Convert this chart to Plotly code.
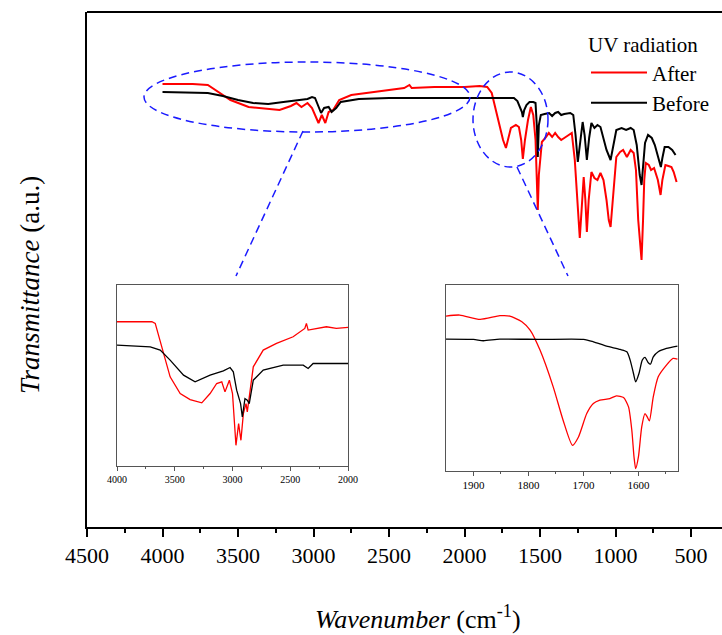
import plotly.graph_objects as go

# ---------------- data (main spectrum, arbitrary transmittance units) ----------------
before_wn = [4000, 3700, 3600, 3500, 3400, 3300, 3200, 3100, 3040, 3010, 2990, 2950, 2930, 2900, 2880, 2850,
             2820, 2700, 2500, 2300, 2000, 1800, 1700, 1673, 1650, 1620, 1614, 1605, 1590, 1570, 1545, 1530,
             1520, 1515, 1508, 1495, 1470, 1440, 1420, 1400, 1380, 1360, 1340, 1300, 1280, 1265, 1250, 1235,
             1218, 1205, 1190, 1175, 1160, 1140, 1120, 1100, 1085, 1060, 1033, 1010, 995, 960, 930, 900, 880,
             860, 840, 828, 815, 805, 785, 760, 740, 720, 700, 690, 675, 650, 625, 603]
before_py = [92, 93, 96, 100, 103, 104, 102, 100, 99, 97, 98, 113, 108, 107, 112, 108,
             102, 99, 98, 98, 98, 98, 98, 98, 101, 112, 117, 110, 105, 102, 102, 103,
             130, 157, 125, 115, 114, 113, 116, 113, 112, 115, 114, 113, 115, 135, 162, 140,
             122, 135, 160, 138, 123, 128, 125, 127, 135, 150, 160, 140, 130, 128, 130, 128, 130,
             145, 175, 185, 160, 143, 135, 138, 145, 155, 167, 158, 147, 147, 150, 155]

after_wn = [4000, 3800, 3700, 3650, 3550, 3430, 3300, 3225, 3150, 3113, 3080, 3040, 3010, 2967, 2945, 2922,
            2900, 2870, 2830, 2750, 2600, 2400, 2365, 2350, 2200, 2000, 1900, 1850, 1820, 1800, 1770, 1745,
            1726, 1710, 1693, 1660, 1640, 1625, 1614, 1600, 1580, 1561, 1545, 1530, 1520, 1515, 1508, 1495,
            1488, 1460, 1442, 1420, 1400, 1380, 1360, 1330, 1290, 1270, 1250, 1237, 1225, 1211, 1200, 1190,
            1178, 1160, 1140, 1120, 1100, 1080, 1060, 1045, 1033, 1015, 995, 970, 950, 925, 900, 880, 865,
            850, 835, 828, 818, 810, 800, 780, 765, 745, 720, 702, 690, 670, 650, 630, 615, 596]
after_py = [84, 84, 85, 90, 100, 107, 109, 110, 106, 103, 107, 103, 108, 123, 115, 123,
            112, 110, 100, 95, 92, 88, 85, 88, 87, 87, 86, 87, 93, 105, 125, 140,
            148, 138, 128, 125, 127, 140, 159, 140, 120, 107, 115, 140, 180, 210, 175, 150,
            142, 137, 133, 137, 133, 137, 140, 137, 133, 160, 210, 238, 210, 177, 200, 232,
            200, 172, 178, 180, 173, 180, 200, 220, 227, 190, 157, 152, 150, 157, 150, 153, 170,
            220, 250, 260, 220, 180, 163, 165, 170, 168, 180, 195, 180, 165, 166, 167, 172, 182]

before_main = [(527 - v) / 5.15 for v in before_py]
after_main = [(527 - v) / 5.15 for v in after_py]

# ---------------- inset 1 (4000-2000 cm-1) ----------------
in1_after_wn = [4000, 3698, 3669, 3597, 3540, 3453, 3367, 3266, 3194, 3137, 3093, 3065, 3027, 3000, 2970,
                2947, 2927, 2906, 2883, 2872, 2855, 2820, 2734, 2619, 2475, 2374, 2360, 2345, 2187, 2101, 2000]
in1_after_zy = [125, 125, 130, 215, 290, 340, 358, 368, 340, 310, 305, 335, 300, 340, 495,
                430, 480, 400, 370, 395, 350, 260, 210, 190, 170, 145, 130, 150, 140, 145, 142]
in1_before_wn = [4000, 3712, 3626, 3540, 3424, 3324, 3194, 3079, 3021, 2993, 2964, 2930, 2915, 2892,
                 2872, 2855, 2820, 2734, 2561, 2388, 2345, 2302, 2000]
in1_before_zy = [195, 200, 210, 240, 285, 305, 285, 272, 262, 275, 330, 370, 410, 355,
                 360, 370, 300, 270, 255, 255, 265, 250, 250]
in1_after = [557 - v for v in in1_after_zy]
in1_before = [557 - v for v in in1_before_zy]

# ---------------- inset 2 (1950-1528 cm-1) ----------------
in2_after_wn = [1950, 1925, 1888, 1852, 1834, 1812, 1797, 1779, 1755, 1737, 1720, 1709, 1694, 1682, 1670,
                1652, 1640, 1627, 1618, 1612, 1608, 1605, 1600, 1594, 1588, 1584, 1580, 1573, 1564, 1549,
                1537, 1529]
in2_after_zy = [108, 105, 118, 107, 108, 125, 150, 210, 320, 420, 495, 470, 400, 370, 360,
                355, 347, 352, 380, 450, 530, 565, 530, 440, 400, 410, 422, 350, 290, 255,
                235, 237]
in2_before_wn = [1950, 1900, 1882, 1852, 1779, 1700, 1682, 1658, 1633, 1621, 1615, 1609, 1605, 1599, 1593,
                 1588, 1582, 1578, 1573, 1564, 1549, 1529]
in2_before_zy = [177, 178, 182, 177, 178, 178, 185, 198, 208, 215, 240, 280, 305, 280, 240,
                 232, 248, 252, 230, 215, 205, 198]
in2_after = [572 - v for v in in2_after_zy]
in2_before = [572 - v for v in in2_before_zy]

# ---------------- layout helpers (pixel -> paper) ----------------
W, H = 722, 635
L, R, T, B = 87, 722, 12, 527


def pxx(x):
    return (x - L) / (R - L)


def pyy(y):
    return (B - y) / (B - T)


SERIF = "Liberation Serif, Times New Roman, serif"
RED = "#ff0000"
BLACK = "#000000"
BLUE = "#1a1aff"

fig = go.Figure()

fig.add_trace(go.Scatter(x=after_wn, y=after_main, mode="lines", name="After",
                         line=dict(color=RED, width=2), xaxis="x", yaxis="y"))
fig.add_trace(go.Scatter(x=before_wn, y=before_main, mode="lines", name="Before",
                         line=dict(color=BLACK, width=2), xaxis="x", yaxis="y"))

fig.add_trace(go.Scatter(x=in1_after_wn, y=in1_after, mode="lines", showlegend=False,
                         line=dict(color=RED, width=1.3), xaxis="x2", yaxis="y2"))
fig.add_trace(go.Scatter(x=in1_before_wn, y=in1_before, mode="lines", showlegend=False,
                         line=dict(color=BLACK, width=1.3), xaxis="x2", yaxis="y2"))
fig.add_trace(go.Scatter(x=in2_after_wn, y=in2_after, mode="lines", showlegend=False,
                         line=dict(color=RED, width=1.3, shape="spline", smoothing=0.6),
                         xaxis="x3", yaxis="y3"))
fig.add_trace(go.Scatter(x=in2_before_wn, y=in2_before, mode="lines", showlegend=False,
                         line=dict(color=BLACK, width=1.3, shape="spline", smoothing=0.6),
                         xaxis="x3", yaxis="y3"))

x_right = 500 - (R - 691) / 75.7 * 500

fig.update_layout(
    width=W, height=H,
    margin=dict(l=L, r=W - R, t=T, b=H - B, autoexpand=False),
    paper_bgcolor="white", plot_bgcolor="white",
    font=dict(family=SERIF, color="black"),
    showlegend=True,
    legend=dict(
        title=dict(text="UV radiation", side="top", font=dict(size=21, family=SERIF)),
        font=dict(size=21, family=SERIF),
        x=pxx(586), xanchor="left", y=pyy(25), yanchor="top",
        itemwidth=56,
        bgcolor="rgba(0,0,0,0)", borderwidth=0, tracegroupgap=0,
    ),
    xaxis=dict(
        domain=[0, 1], range=[4500, x_right], showgrid=False, zeroline=False,
        showline=True, linecolor="black", linewidth=2, mirror=False,
        ticks="outside", ticklen=8, tickwidth=2, tickcolor="black",
        tickmode="array", tickvals=[4500, 4000, 3500, 3000, 2500, 2000, 1500, 1000, 500],
        ticktext=["4500", "4000", "3500", "3000", "2500", "2000", "1500", "1000", "500"],
        minor=dict(ticks="outside", ticklen=4, tickwidth=2, tickcolor="black",
                   tickvals=[4250, 3750, 3250, 2750, 2250, 1750, 1250, 750]),
        tickfont=dict(size=22, family=SERIF),
    ),
    yaxis=dict(
        domain=[0, 1], range=[0, 100], showgrid=False, zeroline=False,
        showline=True, linecolor="black", linewidth=2, mirror=False,
        showticklabels=False, ticks="",
    ),
    xaxis2=dict(
        domain=[pxx(117), pxx(348)], anchor="y2", range=[4000, 2000],
        showgrid=False, zeroline=False, showline=True, linecolor="#555555", linewidth=1,
        mirror=True, ticks="outside", ticklen=4, tickwidth=1, tickcolor="#555555",
        tickvals=[4000, 3500, 3000, 2500, 2000],
        minor=dict(ticks="outside", ticklen=2, tickwidth=1, tickcolor="#555555",
                   tickvals=[3750, 3250, 2750, 2250]),
        tickfont=dict(size=10, family=SERIF),
    ),
    yaxis2=dict(
        domain=[pyy(466), pyy(285)], anchor="x2", range=[0, 542],
        showgrid=False, zeroline=False, showline=True, linecolor="#555555", linewidth=1,
        mirror=True, showticklabels=False, ticks="",
    ),
    xaxis3=dict(
        domain=[pxx(446), pxx(678)], anchor="y3", range=[1950, 1528],
        showgrid=False, zeroline=False, showline=True, linecolor="#555555", linewidth=1,
        mirror=True, ticks="outside", ticklen=4, tickwidth=1, tickcolor="#555555",
        tickvals=[1900, 1800, 1700, 1600],
        minor=dict(ticks="outside", ticklen=2, tickwidth=1, tickcolor="#555555",
                   tickvals=[1850, 1750, 1650, 1550]),
        tickfont=dict(size=11, family=SERIF),
    ),
    yaxis3=dict(
        domain=[pyy(471), pyy(285)], anchor="x3", range=[0, 557],
        showgrid=False, zeroline=False, showline=True, linecolor="#555555", linewidth=1,
        mirror=True, showticklabels=False, ticks="",
    ),
)

shapes = [
    # top frame line of main plot
    dict(type="line", xref="paper", yref="paper", x0=0, x1=1, y0=1, y1=1,
         line=dict(color="black", width=2)),
    # zoom ellipses
    dict(type="circle", xref="paper", yref="paper",
         x0=pxx(144), x1=pxx(470), y0=pyy(132), y1=pyy(62),
         line=dict(color=BLUE, width=1.5, dash="8px,5px")),
    dict(type="circle", xref="paper", yref="paper",
         x0=pxx(473), x1=pxx(548), y0=pyy(167), y1=pyy(72),
         line=dict(color=BLUE, width=1.5, dash="8px,5px")),
    # connector lines
    dict(type="line", xref="paper", yref="paper",
         x0=pxx(303), y0=pyy(131), x1=pxx(236), y1=pyy(276),
         line=dict(color=BLUE, width=1.5, dash="8px,5px")),
    dict(type="line", xref="paper", yref="paper",
         x0=pxx(517), y0=pyy(167), x1=pxx(568), y1=pyy(276),
         line=dict(color=BLUE, width=1.5, dash="8px,5px")),
]
fig.update_layout(shapes=shapes)

fig.add_annotation(xref="paper", yref="paper", x=pxx(418), y=pyy(617),
                   text="<i>Wavenumber</i> (cm<sup>-1</sup>)", showarrow=False,
                   font=dict(size=26, family=SERIF), xanchor="center", yanchor="middle")
fig.add_annotation(xref="paper", yref="paper", x=pxx(30), y=pyy(285),
                   text="<i>Transmittance</i> (a.u.)", showarrow=False, textangle=-90,
                   font=dict(size=27, family=SERIF), xanchor="center", yanchor="middle")

fig.write_html("out.html", config={"displayModeBar": False},
               post_script="document.body.style.margin='0';")
